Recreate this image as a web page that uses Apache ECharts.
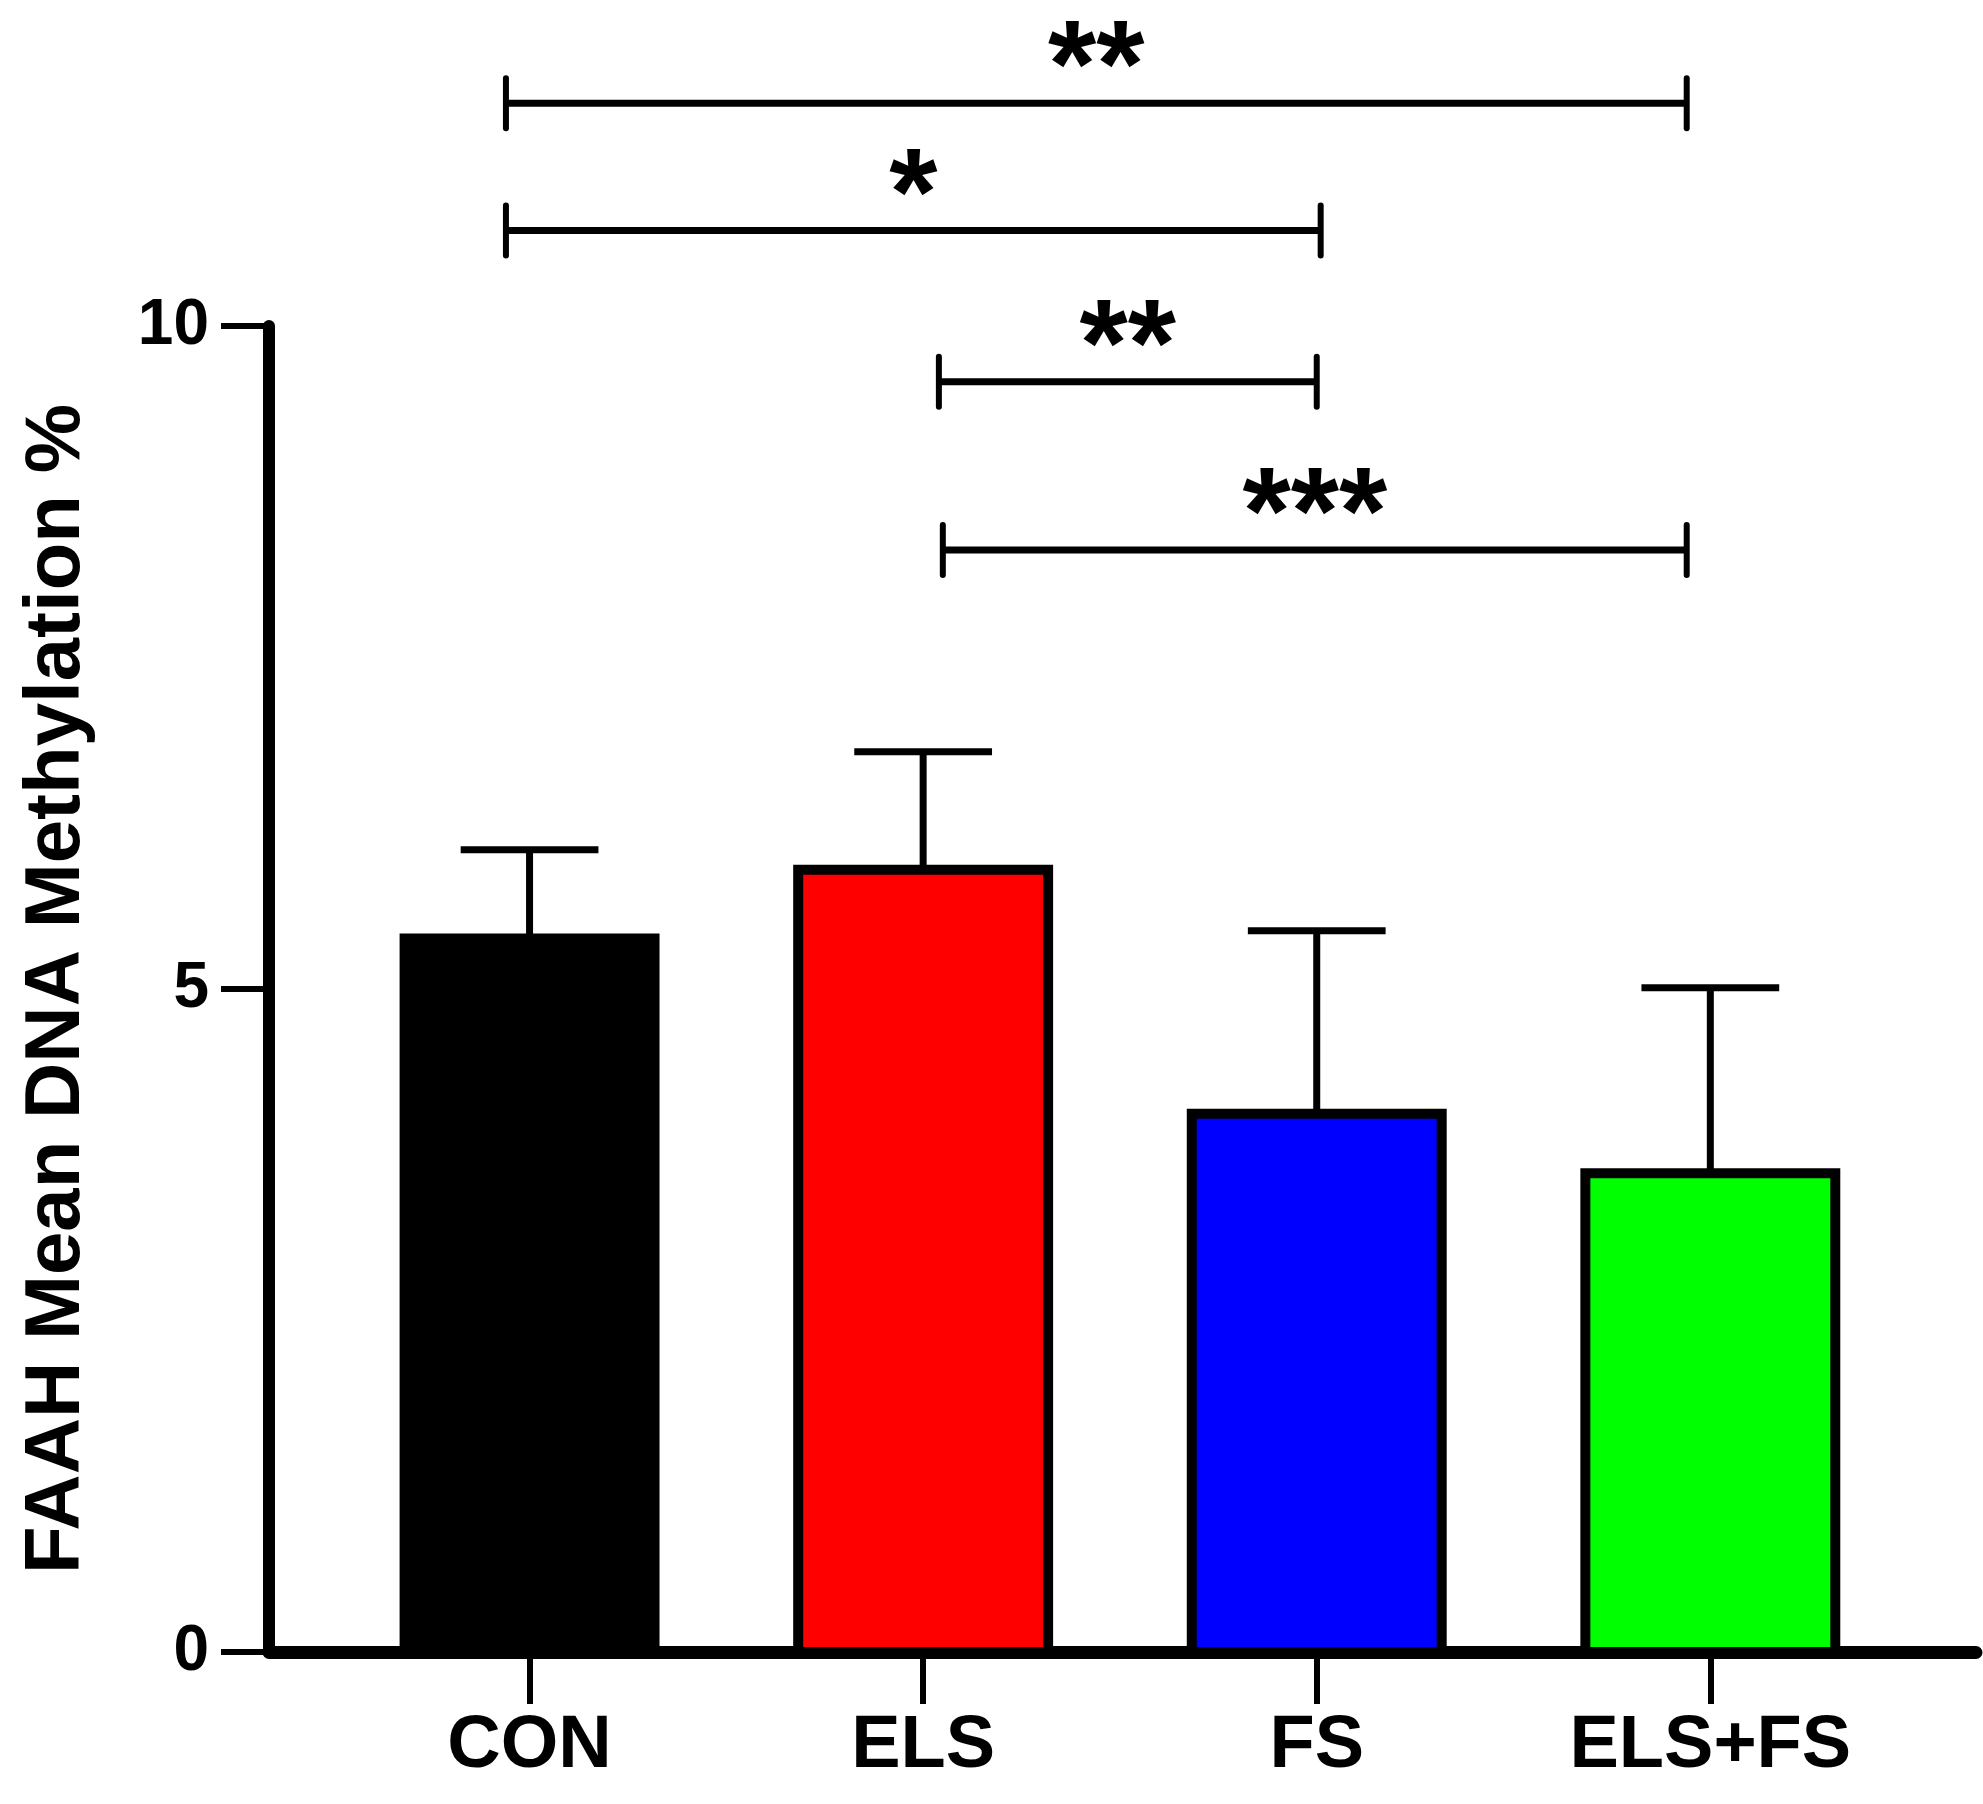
<!DOCTYPE html>
<html>
<head>
<meta charset="utf-8">
<script src="https://cdn.jsdelivr.net/npm/echarts@6/dist/echarts.min.js"></script>
<style>
  html, body { margin: 0; padding: 0; background: #fff; }
  #chart { width: 1983px; height: 1804px; }
</style>
</head>
<body>
<div id="chart"></div>
<script>
// groups and values
var categories = ['CON', 'ELS', 'FS', 'ELS+FS'];
var means = [5.38, 5.90, 4.06, 3.61];
var sems = [0.67, 0.89, 1.38, 1.40];
var barColors = ['#000000', '#ff0000', '#0000ff', '#00ff00'];
var yTicks = [0, 5, 10];

// significance brackets (x in group index units, y in axis units)
var bracketFrom = [-0.06, -0.06, 1.04, 1.05];
var bracketTo = [2.94, 2.01, 2.00, 2.94];
var bracketLevel = [11.68, 10.72, 9.58, 8.31];
var bracketText = ['**', '*', '**', '***'];

var FONT = '"Liberation Sans", Arial, Helvetica, sans-serif';
var BAR_W = 0.635;
var CAP_W = 0.35;

var chart = echarts.init(document.getElementById('chart'));

var barData = [];
for (var i = 0; i < categories.length; i++) {
    barData.push([i, means[i], means[i] + sems[i]]);
}
var bracketData = [];
for (var j = 0; j < bracketText.length; j++) {
    bracketData.push([bracketFrom[j], bracketTo[j], bracketLevel[j], bracketText[j]]);
}

var option = {
    animation: false,
    backgroundColor: '#ffffff',
    grid: { left: 269, right: 7, top: 326, bottom: 152, outerBoundsMode: 'none' },
    xAxis: {
        type: 'value',
        min: -0.662,
        max: 3.675,
        splitLine: { show: false },
        axisLine: { show: true, onZero: false, lineStyle: { color: '#000', width: 13 } },
        axisTick: {
            show: true, length: 52, customValues: [0, 1, 2, 3],
            lineStyle: { color: '#000', width: 6 }
        },
        axisLabel: {
            show: true, customValues: [0, 1, 2, 3], margin: 58,
            fontFamily: FONT, fontWeight: 'bold', fontSize: 74, color: '#000',
            formatter: function (v) { return categories[Math.round(v)] || ''; }
        }
    },
    yAxis: {
        type: 'value',
        min: yTicks[0],
        max: yTicks[yTicks.length - 1],
        interval: 5,
        name: 'FAAH Mean DNA Methylation %',
        nameLocation: 'middle',
        nameGap: 173,
        nameTextStyle: { fontFamily: FONT, fontWeight: 'bold', fontSize: 78, color: '#000' },
        splitLine: { show: false },
        axisLine: { show: true, onZero: false, lineStyle: { color: '#000', width: 12 } },
        axisTick: { show: true, length: 48, lineStyle: { color: '#000', width: 6 } },
        axisLabel: {
            margin: 60, fontFamily: FONT, fontWeight: 'bold', fontSize: 64, color: '#000'
        }
    },
    series: [
        {
            // bars with upward error bars
            type: 'custom',
            data: barData,
            encode: { x: 0, y: [1, 2] },
            z: 3,
            renderItem: function (params, api) {
                var x = api.value(0), m = api.value(1), e = api.value(2);
                var tl = api.coord([x - BAR_W / 2, m]);
                var br = api.coord([x + BAR_W / 2, 0]);
                var top = api.coord([x, m]);
                var err = api.coord([x, e]);
                var cl = api.coord([x - CAP_W / 2, e]);
                var cr = api.coord([x + CAP_W / 2, e]);
                return {
                    type: 'group',
                    children: [
                        {
                            type: 'rect',
                            shape: { x: tl[0], y: tl[1], width: br[0] - tl[0], height: br[1] - tl[1] },
                            style: { fill: barColors[params.dataIndex], stroke: '#000', lineWidth: 10 }
                        },
                        {
                            type: 'line',
                            shape: { x1: top[0], y1: top[1], x2: err[0], y2: err[1] },
                            style: { stroke: '#000', lineWidth: 7 }
                        },
                        {
                            type: 'line',
                            shape: { x1: cl[0], y1: cl[1], x2: cr[0], y2: cr[1] },
                            style: { stroke: '#000', lineWidth: 7 }
                        }
                    ]
                };
            }
        },
        {
            // significance brackets
            type: 'custom',
            data: bracketData,
            encode: { x: [0, 1], y: 2 },
            z: 4,
            clip: false,
            renderItem: function (params, api) {
                var a = api.coord([api.value(0), api.value(2)]);
                var b = api.coord([api.value(1), api.value(2)]);
                var txt = bracketText[params.dataIndex];
                return {
                    type: 'group',
                    children: [
                        {
                            type: 'line',
                            shape: { x1: a[0], y1: a[1], x2: b[0], y2: b[1] },
                            style: { stroke: '#000', lineWidth: 7 }
                        },
                        {
                            type: 'line',
                            shape: { x1: a[0], y1: a[1] - 25, x2: a[0], y2: a[1] + 25 },
                            style: { stroke: '#000', lineWidth: 6, lineCap: 'round' }
                        },
                        {
                            type: 'line',
                            shape: { x1: b[0], y1: b[1] - 25, x2: b[0], y2: b[1] + 25 },
                            style: { stroke: '#000', lineWidth: 6, lineCap: 'round' }
                        },
                        {
                            type: 'text',
                            style: {
                                x: (a[0] + b[0]) / 2, y: a[1] - 30,
                                text: txt, fill: '#000',
                                font: 'bold 124px ' + FONT,
                                align: 'center', verticalAlign: 'middle'
                            }
                        }
                    ]
                };
            }
        }
    ]
};

chart.setOption(option);
</script>
</body>
</html>
